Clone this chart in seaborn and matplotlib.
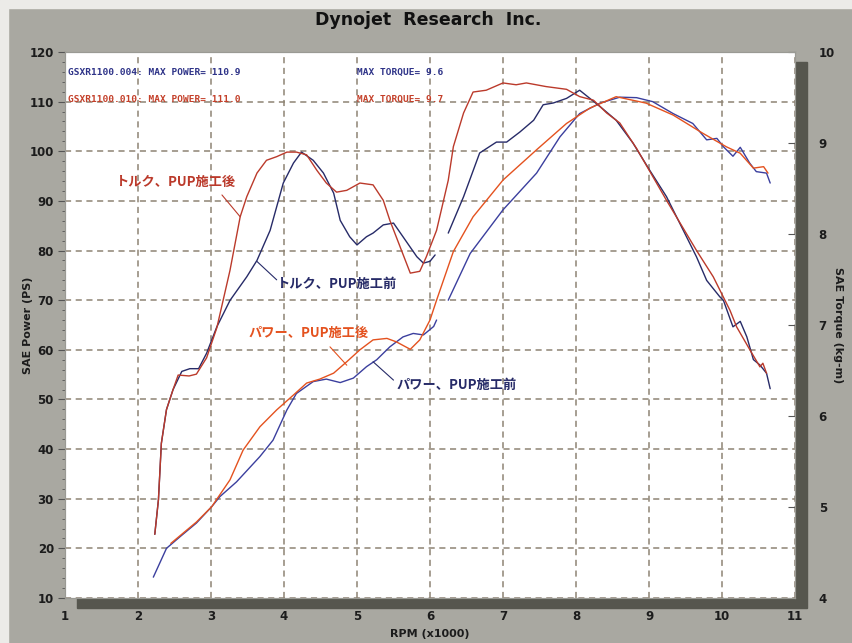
import numpy as np
import pandas as pd
import matplotlib
matplotlib.use("Agg")
import matplotlib.pyplot as plt
import seaborn as sns
from matplotlib.patches import Rectangle
from matplotlib.ticker import MultipleLocator

# ---------------- data (read from the dyno sheet) ----------------
# Power, before PUP (two recorded segments)
rpm_power_before_a = [2.21, 2.39, 2.58, 2.80, 3.01, 3.12, 3.35, 3.67, 3.85, 4.04, 4.17, 4.40,
                      4.58, 4.77, 4.95, 5.13, 5.27, 5.45, 5.63, 5.77, 5.91, 6.05, 6.09]
power_before_a = [14.2, 20.0, 22.4, 25.1, 28.4, 30.4, 33.4, 38.5, 41.8, 47.9, 51.2, 53.6,
                  54.1, 53.4, 54.3, 56.6, 58.0, 60.6, 62.6, 63.3, 63.0, 64.7, 66.0]
rpm_power_before_b = [6.25, 6.55, 7.00, 7.46, 7.78, 8.05, 8.33, 8.60, 8.83, 9.05, 9.33, 9.60,
                      9.79, 9.93, 10.02, 10.15, 10.25, 10.38, 10.47, 10.61, 10.66]
power_before_b = [70.0, 79.4, 88.2, 95.6, 102.9, 107.6, 109.7, 110.9, 110.8, 110.0, 107.6, 105.6,
                  102.3, 102.6, 100.9, 99.0, 100.8, 97.6, 95.9, 95.6, 93.6]

# Power, after PUP
rpm_power_after = [2.45, 2.58, 2.80, 3.01, 3.26, 3.44, 3.67, 3.90, 4.13, 4.31, 4.49, 4.68,
                   4.86, 5.04, 5.22, 5.41, 5.54, 5.73, 5.86, 6.00, 6.09, 6.32, 6.59, 7.00,
                   7.46, 7.87, 8.19, 8.55, 8.96, 9.33, 9.74, 10.06, 10.25, 10.43, 10.57, 10.63]
power_after = [21.0, 22.6, 25.3, 28.4, 33.8, 39.8, 44.5, 47.9, 50.9, 53.3, 54.1, 55.3,
               57.6, 60.0, 62.0, 62.3, 61.6, 60.1, 62.0, 66.0, 70.0, 79.8, 86.8, 94.2,
               100.3, 105.6, 108.7, 111.0, 109.7, 107.3, 103.6, 100.9, 99.6, 96.6, 96.9, 95.6]

# Torque, before PUP (two recorded segments)
rpm_torque_before_a = [2.23, 2.28, 2.32, 2.39, 2.48, 2.60, 2.71, 2.83, 2.94, 3.08, 3.26, 3.49,
                       3.63, 3.81, 3.99, 4.13, 4.24, 4.40, 4.54, 4.68, 4.77, 4.90, 5.00, 5.13,
                       5.22, 5.36, 5.50, 5.63, 5.82, 5.91, 6.00, 6.07]
torque_before_a = [4.70, 5.08, 5.70, 6.07, 6.29, 6.49, 6.52, 6.52, 6.69, 6.98, 7.27, 7.53,
                   7.71, 8.04, 8.56, 8.78, 8.90, 8.81, 8.67, 8.45, 8.15, 7.97, 7.88, 7.97,
                   8.01, 8.10, 8.12, 7.97, 7.75, 7.68, 7.70, 7.77]
rpm_torque_before_b = [6.25, 6.46, 6.68, 6.91, 7.05, 7.23, 7.42, 7.55, 7.69, 7.87, 8.05, 8.19,
                       8.33, 8.55, 8.78, 9.01, 9.24, 9.47, 9.65, 9.79, 9.97, 10.02, 10.15, 10.25,
                       10.34, 10.43, 10.52, 10.61, 10.66]
torque_before_b = [8.01, 8.41, 8.89, 9.01, 9.01, 9.12, 9.25, 9.42, 9.44, 9.49, 9.58, 9.49,
                   9.40, 9.25, 9.00, 8.70, 8.41, 8.04, 7.75, 7.49, 7.31, 7.27, 6.98, 7.04,
                   6.87, 6.62, 6.56, 6.47, 6.30]

# Torque, after PUP
rpm_torque_after = [2.23, 2.28, 2.32, 2.39, 2.48, 2.55, 2.70, 2.80, 2.94, 3.08, 3.26, 3.40,
                    3.49, 3.63, 3.76, 3.90, 4.04, 4.17, 4.31, 4.45, 4.58, 4.72, 4.86, 5.04,
                    5.22, 5.36, 5.45, 5.59, 5.73, 5.86, 5.95, 6.09, 6.25, 6.32, 6.46, 6.59,
                    6.77, 7.00, 7.18, 7.32, 7.59, 7.87, 8.05, 8.24, 8.42, 8.60, 8.83, 9.24,
                    9.65, 9.88, 10.11, 10.20, 10.38, 10.52, 10.56, 10.61]
torque_after = [4.70, 5.08, 5.70, 6.07, 6.29, 6.45, 6.44, 6.46, 6.64, 6.97, 7.60, 8.19,
                8.41, 8.67, 8.81, 8.85, 8.90, 8.90, 8.87, 8.70, 8.56, 8.46, 8.48, 8.56,
                8.54, 8.37, 8.15, 7.86, 7.57, 7.59, 7.75, 8.04, 8.59, 8.96, 9.33, 9.56,
                9.58, 9.66, 9.64, 9.66, 9.62, 9.59, 9.51, 9.47, 9.33, 9.22, 8.94, 8.37,
                7.82, 7.53, 7.16, 6.98, 6.73, 6.54, 6.58, 6.47]

x_ticks = list(range(1, 12))
power_ticks = list(range(10, 121, 10))
torque_ticks = list(range(4, 11))

title = "Dynojet  Research  Inc."
run_before = "GSXR1100.004: MAX POWER= 110.9"
run_after = "GSXR1100.010: MAX POWER= 111.0"
tq_before = "MAX TORQUE= 9.6"
tq_after = "MAX TORQUE= 9.7"
lbl_tq_after = "トルク、PUP施工後"
lbl_tq_before = "トルク、PUP施工前"
lbl_pw_after = "パワー、PUP施工後"
lbl_pw_before = "パワー、PUP施工前"

# ---------------- styling ----------------
sns.set_theme(style="white")
plt.rcParams["font.family"] = ["Liberation Sans Narrow", "DejaVu Sans"]

C_TQ_BEFORE = "#272b68"
C_PW_BEFORE = "#3b3f9e"
C_TQ_AFTER = "#bb3a2b"
C_PW_AFTER = "#e4521f"
C_TXT_BLUE = "#2e3388"
C_TXT_RED = "#c4402a"
GRID = "#8e8474"

W, H = 852, 643
fig = plt.figure(figsize=(W / 100, H / 100), dpi=100)
fig.patch.set_facecolor("#a9a8a1")

# light border strips and drop shadow of the plot panel
fig.patches.append(Rectangle((0, 1 - 8 / H), 1, 8 / H, transform=fig.transFigure,
                             color="#ecebe8", zorder=-2))
fig.patches.append(Rectangle((0, 0), 8 / W, 1, transform=fig.transFigure,
                             color="#ecebe8", zorder=-2))
fig.patches.append(Rectangle((77 / W, 1 - 608 / H), 730 / W, 546 / H, transform=fig.transFigure,
                             color="#56564e", zorder=-1))

ax = fig.add_axes([65 / W, 1 - 598 / H, 730 / W, 546 / H])
ax.set_facecolor("white")

line_kw = dict(linewidth=1.0, estimator=None, sort=False, legend=False)
sns.lineplot(x=rpm_power_before_a, y=power_before_a, ax=ax, color=C_PW_BEFORE, **line_kw)
sns.lineplot(x=rpm_power_before_b, y=power_before_b, ax=ax, color=C_PW_BEFORE, **line_kw)
sns.lineplot(x=rpm_power_after, y=power_after, ax=ax, color=C_PW_AFTER, **line_kw)

ax.set_xlim(1, 11)
ax.set_ylim(10, 120)
ax.set_xticks(x_ticks)
ax.set_yticks(power_ticks)
ax.xaxis.set_minor_locator(MultipleLocator(0.2))
ax.yaxis.set_minor_locator(MultipleLocator(2))
ax.grid(True, which="major", color=GRID, linestyle=(0, (4, 3)), linewidth=1.1)
ax.set_axisbelow(True)

ax2 = ax.twinx()
sns.lineplot(x=rpm_torque_before_a, y=torque_before_a, ax=ax2, color=C_TQ_BEFORE, **line_kw)
sns.lineplot(x=rpm_torque_before_b, y=torque_before_b, ax=ax2, color=C_TQ_BEFORE, **line_kw)
sns.lineplot(x=rpm_torque_after, y=torque_after, ax=ax2, color=C_TQ_AFTER, **line_kw)
ax2.set_ylim(4, 10)
ax2.set_yticks(torque_ticks)
ax2.grid(False)

for a in (ax, ax2):
    for s in a.spines.values():
        s.set_color("#9a9a94")
        s.set_linewidth(0.8)

tick_font = dict(labelsize=8.5, labelcolor="#1c1c1c")
ax.tick_params(axis="y", which="major", direction="out", length=5, width=0.8,
               color="#555", pad=3, **tick_font)
ax.tick_params(axis="y", which="minor", direction="out", length=2.5, width=0.6, color="#555")
ax.tick_params(axis="x", which="both", direction="in", length=5, width=0.8,
               color="#444", pad=9, **tick_font)
ax2.tick_params(axis="y", which="major", direction="in", length=5, width=0.8,
                color="#555", pad=17, **tick_font)
for lab in ax.get_xticklabels() + ax.get_yticklabels() + ax2.get_yticklabels():
    lab.set_fontweight("bold")

ax.set_xlabel("RPM (x1000)", fontsize=8, fontweight="bold", color="#1c1c1c")
ax.xaxis.set_label_coords(0.5, -0.056)
ax.set_ylabel("SAE Power (PS)", fontsize=8, fontweight="bold", color="#1c1c1c")
ax.yaxis.set_label_coords(-0.044, 0.5)
ax2.set_ylabel("SAE Torque (kg-m)", fontsize=8, fontweight="bold", color="#1c1c1c",
               rotation=270)
ax2.yaxis.set_label_coords(1.066, 0.5)

fig.text(428 / W, 1 - 20 / H, title, ha="center", va="center", fontsize=12.5,
         fontweight="bold", color="#111")

mono = dict(family="DejaVu Sans Mono", fontsize=6.8, va="center", fontweight="bold")
ax.text(1.04, 115.8, run_before, color=C_TXT_BLUE, **mono)
ax.text(5.0, 115.8, tq_before, color=C_TXT_BLUE, **mono)
ax.text(1.04, 110.5, run_after, color=C_TXT_RED, **mono)
ax.text(5.0, 110.5, tq_after, color=C_TXT_RED, **mono)

jp = dict(family=["Noto Sans CJK JP", "DejaVu Sans"], fontsize=9.5, fontweight="bold",
          ha="center", va="center")
labels = [
    (lbl_tq_after, (2.52, 93.8), (3.15, 91.2), (3.40, 86.8), C_TQ_AFTER),
    (lbl_tq_before, (4.73, 73.3), (3.63, 77.8), (3.90, 74.1), C_TQ_BEFORE),
    (lbl_pw_after, (4.34, 63.4), (4.63, 60.6), (4.86, 56.9), C_PW_AFTER),
    (lbl_pw_before, (6.37, 52.9), (5.22, 57.6), (5.50, 53.9), C_TQ_BEFORE),
]
for txt, pos, p0, p1, col in labels:
    ax.text(pos[0], pos[1], txt, color=col, **jp)
    ax.annotate("", xy=p1, xytext=p0,
                arrowprops=dict(arrowstyle="-", color=col, lw=0.8, shrinkA=0, shrinkB=0))

fig.savefig("out.png", dpi=100, facecolor=fig.get_facecolor())
